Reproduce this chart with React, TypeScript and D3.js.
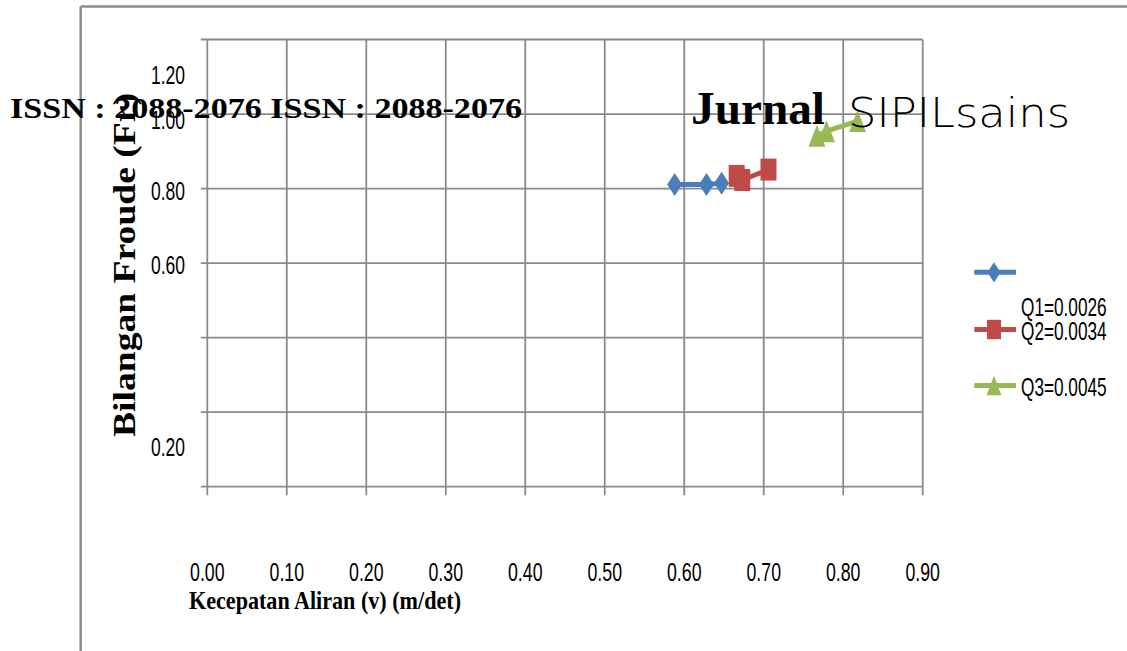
import React from "react";
import * as d3 from "d3";

const xTicks = [0, 0.1, 0.2, 0.3, 0.4, 0.5, 0.6, 0.7, 0.8, 0.9];
const xTickLabels = ["0.00", "0.10", "0.20", "0.30", "0.40", "0.50", "0.60", "0.70", "0.80", "0.90"];
const yGrid = [0, 0.2, 0.4, 0.6, 0.8, 1.0, 1.2];
const yTickLabels = ["1.20", "1.00", "0.80", "0.60", "0.20"];
const yTickLabelAt = [1.105, 0.985, 0.795, 0.595, 0.107];

const q1V = [0.588, 0.628, 0.647];
const q1Fr = [0.811, 0.811, 0.814];
const q2V = [0.666, 0.673, 0.706];
const q2Fr = [0.834, 0.823, 0.851];
const q3V = [0.767, 0.779, 0.818];
const q3Fr = [0.942, 0.954, 0.981];

const seriesNames = ["Q1=0.0026", "Q2=0.0034", "Q3=0.0045"];
const seriesColors = ["#4A7EBB", "#BE4B48", "#98B954"];

const W = 1127;
const H = 651;
const plot = { left: 207.3, right: 922.7, top: 39.5, bottom: 486.7 };

const x = d3.scaleLinear().domain([0, 0.9]).range([plot.left, plot.right]);
const y = d3.scaleLinear().domain([0, 1.2]).range([plot.bottom, plot.top]);

function diamond(w: number, h: number) {
  return `M0,${-h / 2}L${w / 2},0L0,${h / 2}L${-w / 2},0Z`;
}
function square(w: number, h: number) {
  return `M${-w / 2},${-h / 2}h${w}v${h}h${-w}Z`;
}
function triangle(w: number, h: number) {
  return `M0,${-h / 2}L${w / 2},${h / 2}L${-w / 2},${h / 2}Z`;
}
const shapes = [
  (s: number) => diamond(15 * s, 23 * s),
  (s: number) => square(16 * s, 22 * s),
  (s: number) => triangle(17 * s, 22 * s),
];

const gridColor = "#8a8a8a";
const sansFont = "'Liberation Sans', Arial, sans-serif";
const serifFont = "'Liberation Serif', 'Times New Roman', serif";

function NText(props: {
  x: number;
  y: number;
  sx: number;
  size: number;
  anchor?: string;
  children: React.ReactNode;
  font?: string;
  weight?: string | number;
}) {
  return (
    <g transform={`translate(${props.x},${props.y}) scale(${props.sx},1)`}>
      <text
        x={0}
        y={0}
        textAnchor={props.anchor || "start"}
        fontFamily={props.font || sansFont}
        fontSize={props.size}
        fontWeight={props.weight || "normal"}
        fill="#000"
      >
        {props.children}
      </text>
    </g>
  );
}

export default function App() {
  const series = [
    { v: q1V, fr: q1Fr },
    { v: q2V, fr: q2Fr },
    { v: q3V, fr: q3Fr },
  ];
  const line = d3
    .line<[number, number]>()
    .x((d) => x(d[0]))
    .y((d) => y(d[1]));

  const legendRows = [
    { lineY: 272.3, textY: 316 },
    { lineY: 329.5, textY: 340 },
    { lineY: 385.5, textY: 395.5 },
  ];

  return (
    <svg
      width={W}
      height={H}
      style={{ position: "absolute", left: 0, top: 0, background: "#fff" }}
    >
      <rect x={0} y={0} width={W} height={H} fill="#fff" />
      {/* outer frame */}
      <line x1={80.7} x2={W} y1={6.5} y2={6.5} stroke="#8c8c8c" strokeWidth={2.5} />
      <line x1={80.7} x2={80.7} y1={6.5} y2={H} stroke="#8c8c8c" strokeWidth={2.5} />

      {/* horizontal gridlines */}
      {yGrid.map((t) => (
        <line
          key={"h" + t}
          x1={plot.left - 6.5}
          x2={plot.right}
          y1={y(t)}
          y2={y(t)}
          stroke={gridColor}
          strokeWidth={1.8}
        />
      ))}
      {/* vertical gridlines */}
      {xTicks.map((t) => (
        <line
          key={"v" + t}
          x1={x(t)}
          x2={x(t)}
          y1={plot.top}
          y2={plot.bottom + 8.5}
          stroke={gridColor}
          strokeWidth={1.8}
        />
      ))}

      {/* x tick labels */}
      {xTicks.map((t, i) => (
        <NText key={"xl" + t} x={x(t)} y={580.5} sx={0.67} size={26.5} anchor="middle">
          {xTickLabels[i]}
        </NText>
      ))}
      {/* y tick labels */}
      {yTickLabels.map((lab, i) => (
        <NText key={"yl" + lab} x={185} y={y(yTickLabelAt[i]) + 9.5} sx={0.66} size={26.5} anchor="end">
          {lab}
        </NText>
      ))}

      {/* axis titles */}
      <text
        x={189}
        y={609}
        fontFamily={serifFont}
        fontWeight="bold"
        fontSize={26}
        textLength={272}
        lengthAdjust="spacingAndGlyphs"
        fill="#000"
      >
        Kecepatan Aliran (v) (m/det)
      </text>
      <text
        transform="translate(135,437) rotate(-90)"
        x={0}
        y={0}
        fontFamily={serifFont}
        fontWeight="bold"
        fontSize={31}
        textLength={344}
        lengthAdjust="spacingAndGlyphs"
        fill="#000"
      >
        Bilangan Froude (Fr)
      </text>

      {/* header overlay */}
      <text
        x={10}
        y={118}
        fontFamily={serifFont}
        fontWeight="bold"
        fontSize={30}
        textLength={512}
        lengthAdjust="spacingAndGlyphs"
        fill="#000"
      >
        ISSN : 2088-2076 ISSN : 2088-2076
      </text>
      <text
        x={691}
        y={124}
        fontFamily={serifFont}
        fontWeight="bold"
        fontSize={47}
        textLength={134}
        lengthAdjust="spacingAndGlyphs"
        fill="#000"
      >
        Jurnal
      </text>

      {/* series */}
      {series.map((s, i) => {
        const pts: [number, number][] = s.v.map((v, j) => [v, s.fr[j]]);
        return (
          <g key={"s" + i}>
            <path d={line(pts) || ""} fill="none" stroke={seriesColors[i]} strokeWidth={5} />
            {pts.map((p, j) => (
              <path
                key={j}
                d={shapes[i](1)}
                transform={`translate(${x(p[0])},${y(p[1])})`}
                fill={seriesColors[i]}
              />
            ))}
          </g>
        );
      })}

      <text
        x={848}
        y={127}
        fontFamily="'DejaVu Sans', sans-serif"
        fontWeight={200}
        fontSize={40}
        textLength={222}
        lengthAdjust="spacingAndGlyphs"
        fill="#000"
      >
        SIPILsains
      </text>

      {/* legend */}
      {seriesNames.map((name, i) => (
        <g key={"lg" + i}>
          <line
            x1={974.3}
            x2={1016}
            y1={legendRows[i].lineY}
            y2={legendRows[i].lineY}
            stroke={seriesColors[i]}
            strokeWidth={5}
          />
          <path
            d={shapes[i](0.88)}
            transform={`translate(994,${legendRows[i].lineY})`}
            fill={seriesColors[i]}
          />
          <NText x={1021} y={legendRows[i].textY} sx={0.65} size={26.5}>
            {name}
          </NText>
        </g>
      ))}
    </svg>
  );
}
